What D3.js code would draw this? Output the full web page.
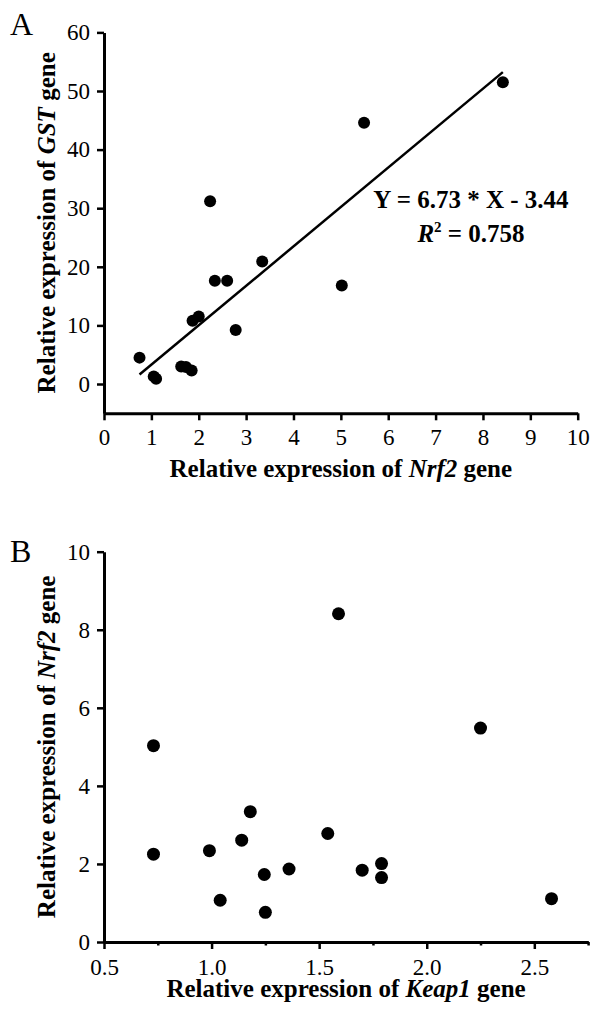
<!DOCTYPE html>
<html>
<head>
<meta charset="utf-8">
<script src="https://cdn.jsdelivr.net/npm/d3@7"></script>
<style>
  html, body { margin: 0; padding: 0; background: #fff; }
  svg { display: block; font-family: "Liberation Serif", "Times New Roman", serif; }
</style>
</head>
<body>
<svg id="fig" width="592" height="1013"></svg>
<script>
// Panel A: Nrf2 vs GST relative expression (one entry per sample)
const aNrf2 = [0.75, 1.05, 1.10, 1.63, 1.73, 1.85, 1.87, 2.00, 2.24, 2.34, 2.60, 2.78, 3.34, 5.02, 5.49, 8.42];
const aGst  = [4.5, 1.3, 0.9, 3.0, 2.9, 2.3, 10.8, 11.5, 31.2, 17.6, 17.6, 9.2, 20.9, 16.8, 44.6, 51.5];
const aXTicks = [0, 1, 2, 3, 4, 5, 6, 7, 8, 9, 10];
const aYTicks = [0, 10, 20, 30, 40, 50, 60];
// Linear fit reported on panel A
const fitSlope = 6.73;
const fitIntercept = -3.44;
const fitR2 = 0.758;

// Panel B: Keap1 vs Nrf2 relative expression
const bKeap1 = [1.25, 1.04, 2.58, 1.79, 1.245, 1.70, 1.36, 1.79, 0.73, 0.99, 1.14, 1.54, 1.18, 0.73, 2.25, 1.59];
const bNrf2  = [0.76, 1.07, 1.11, 1.65, 1.73, 1.84, 1.87, 2.01, 2.25, 2.34, 2.61, 2.78, 3.34, 5.03, 5.48, 8.41];
const bXTicks = [0.5, 1.0, 1.5, 2.0, 2.5];
const bXMinor = [0.75, 1.25, 1.75, 2.25, 2.75];
const bYTicks = [0, 2, 4, 6, 8, 10];

const svg = d3.select("#fig");
const TICK_FONT = 23;
const TITLE_FONT = 25;

function styleAxis(g) {
  g.select(".domain").attr("stroke", "#000").attr("stroke-width", 3);
  g.selectAll(".tick line").attr("stroke", "#000").attr("stroke-width", 2.5);
  g.selectAll(".tick text")
    .attr("fill", "#000")
    .style("font-family", '"Liberation Serif", "Times New Roman", serif')
    .style("font-size", TICK_FONT + "px");
}

function titleWithGene(sel, before, gene, after) {
  sel.attr("font-weight", "bold").attr("font-size", TITLE_FONT).attr("fill", "#000");
  sel.append("tspan").text(before);
  sel.append("tspan").attr("font-style", "italic").text(gene);
  sel.append("tspan").text(after);
}

// ---------- Panel A ----------
const xA = d3.scaleLinear().domain([0, 10]).range([104, 577.7]);
const yA = d3.scaleLinear().domain([-5, 60]).range([413.3, 32.4]);

svg.append("g")
  .attr("transform", `translate(0,${yA(-5)})`)
  .call(d3.axisBottom(xA).tickValues(aXTicks).tickFormat(d3.format("d"))
    .tickSize(7).tickSizeOuter(0).tickPadding(8))
  .call(styleAxis);

svg.append("g")
  .attr("transform", `translate(${xA(0)},0)`)
  .call(d3.axisLeft(yA).tickValues(aYTicks).tickFormat(d3.format("d"))
    .tickSize(7).tickSizeOuter(0).tickPadding(7))
  .call(styleAxis);

// regression line across the observed Nrf2 range
const fitX = d3.extent(aNrf2);
svg.append("line")
  .attr("x1", xA(fitX[0])).attr("y1", yA(fitSlope * fitX[0] + fitIntercept))
  .attr("x2", xA(fitX[1])).attr("y2", yA(fitSlope * fitX[1] + fitIntercept))
  .attr("stroke", "#000").attr("stroke-width", 2.5);

svg.append("g").selectAll("circle")
  .data(aNrf2.map((v, i) => [v, aGst[i]]))
  .join("circle")
  .attr("cx", d => xA(d[0]))
  .attr("cy", d => yA(d[1]))
  .attr("r", 6)
  .attr("fill", "#000");

// fit equation
const eq = svg.append("text")
  .attr("x", 471).attr("y", 208)
  .attr("text-anchor", "middle")
  .attr("font-weight", "bold").attr("font-size", TITLE_FONT).attr("fill", "#000")
  .text(`Y = ${fitSlope.toFixed(2)} * X - ${Math.abs(fitIntercept).toFixed(2)}`);
const r2 = svg.append("text")
  .attr("x", 471).attr("y", 241.5)
  .attr("text-anchor", "middle")
  .attr("font-weight", "bold").attr("font-size", TITLE_FONT).attr("fill", "#000");
r2.append("tspan").attr("font-style", "italic").text("R");
r2.append("tspan").attr("font-size", 15).attr("dy", -10).text("2");
r2.append("tspan").attr("dy", 10).text(` = ${fitR2.toFixed(3)}`);

// axis titles
svg.append("text")
  .attr("x", (xA(0) + xA(10)) / 2).attr("y", 476.5)
  .attr("text-anchor", "middle")
  .call(titleWithGene, "Relative expression of ", "Nrf2", " gene");
svg.append("text")
  .attr("transform", `translate(55,${(yA(-5) + yA(60)) / 2}) rotate(-90)`)
  .attr("text-anchor", "middle")
  .call(titleWithGene, "Relative expression of ", "GST", " gene");

svg.append("text")
  .attr("x", 10).attr("y", 34.5)
  .attr("font-size", 32).attr("fill", "#000")
  .text("A");

// ---------- Panel B ----------
const xB = d3.scaleLinear().domain([0.5, 2.75]).range([104, 588.1]);
const yB = d3.scaleLinear().domain([0, 10]).range([942, 551.7]);

svg.append("g")
  .attr("transform", `translate(0,${yB(0)})`)
  .call(d3.axisBottom(xB).tickValues(bXMinor).tickFormat("")
    .tickSize(3.5).tickSizeOuter(0))
  .call(styleAxis);

svg.append("g")
  .attr("transform", `translate(0,${yB(0)})`)
  .call(d3.axisBottom(xB).tickValues(bXTicks).tickFormat(d3.format(".1f"))
    .tickSize(7).tickSizeOuter(0).tickPadding(9.5))
  .call(styleAxis);

svg.append("g")
  .attr("transform", `translate(${xB(0.5)},0)`)
  .call(d3.axisLeft(yB).tickValues(bYTicks).tickFormat(d3.format("d"))
    .tickSize(7).tickSizeOuter(0).tickPadding(7))
  .call(styleAxis);

svg.append("g").selectAll("circle")
  .data(bKeap1.map((v, i) => [v, bNrf2[i]]))
  .join("circle")
  .attr("cx", d => xB(d[0]))
  .attr("cy", d => yB(d[1]))
  .attr("r", 6.5)
  .attr("fill", "#000");

svg.append("text")
  .attr("x", (xB(0.5) + xB(2.75)) / 2).attr("y", 996.5)
  .attr("text-anchor", "middle")
  .call(titleWithGene, "Relative expression of ", "Keap1", " gene");
svg.append("text")
  .attr("transform", `translate(55,${(yB(0) + yB(10)) / 2}) rotate(-90)`)
  .attr("text-anchor", "middle")
  .call(titleWithGene, "Relative expression of ", "Nrf2", " gene");

svg.append("text")
  .attr("x", 10).attr("y", 562)
  .attr("font-size", 32).attr("fill", "#000")
  .text("B");
</script>
</body>
</html>
